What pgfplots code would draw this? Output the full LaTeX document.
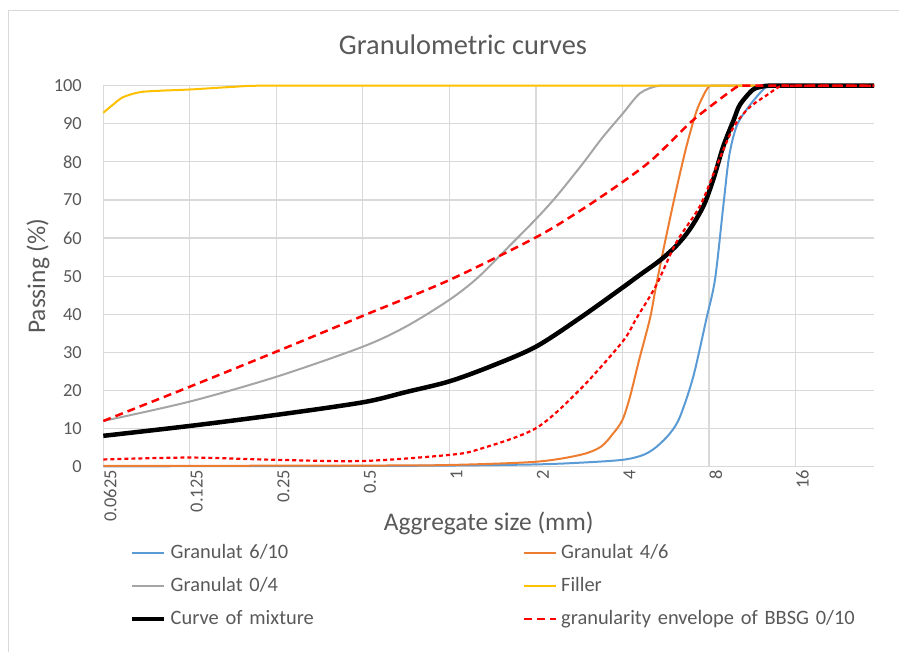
\documentclass[border=0pt]{standalone}
\usepackage{fontspec}
\setmainfont{Carlito}
\usepackage{pgfplots}
\pgfplotsset{compat=1.18}
\definecolor{txt}{HTML}{595959}
\definecolor{gridc}{HTML}{D9D9D9}
\definecolor{cblue}{HTML}{5B9BD5}
\definecolor{corange}{HTML}{ED7D31}
\definecolor{cgray}{HTML}{A5A5A5}
\definecolor{cyellow}{HTML}{FFC000}
\begin{document}
\begin{tikzpicture}
\useasboundingbox (0,0) rectangle (899bp,652bp);
\draw[gridc, line width=1bp] (8bp,-2bp) -- (8bp,641bp) -- (901bp,641bp);
\node[text=txt, font=\fontsize{28.5}{34}\selectfont] at (463bp,607bp) {Granulometric curves};
\begin{axis}[
 at={(103.3bp,185.3bp)}, anchor=south west, scale only axis,
 width=770.7bp, height=381bp,
 xmode=log, log basis x=2, xmin=0.0625, xmax=30, ymin=0, ymax=100,
 xtick={0.0625,0.125,0.25,0.5,1,2,4,8,16},
 xticklabels={0.0625,0.125,0.25,0.5,1,2,4,8,16},
 ytick={0,10,...,100},
 grid=major, major grid style={gridc, line width=1.2bp},
 axis line style={draw=none}, tick style={draw=none},
 /pgf/number format/assume math mode=true,
 xticklabel style={rotate=90, anchor=east, yshift=-7bp, font=\fontsize{18.5}{22}\selectfont, text=txt},
 yticklabel style={xshift=-18bp, font=\fontsize{18.5}{22}\selectfont, text=txt},
 xlabel={Aggregate size (mm)},
 ylabel={Passing (\%)},
 xlabel style={at={(axis description cs:0.5,-0.148)}, anchor=center, font=\fontsize{25.5}{30}\selectfont, text=txt},
 ylabel style={at={(axis description cs:-0.0847,0.5)}, anchor=center, font=\fontsize{25.5}{30}\selectfont, text=txt},
 clip=false,
 legend columns=2,
 legend cell align=left,
 legend image code/.code={\draw[#1] (0bp,0bp) -- (32bp,0bp);},
 legend style={at={(axis description cs:0.0346,-0.203)}, anchor=north west, draw=none, fill=none, inner sep=0pt,
   font=\fontsize{20.5}{24}\selectfont, text=txt, column sep=4bp, row sep=15bp,
   nodes={text width=348bp, text height=14bp, text depth=4bp, inner sep=0pt}},
 every axis plot/.append style={smooth, tension=0.5},
]
\addplot[cblue, line width=2bp] coordinates {
(0.0625,0.1) (0.25,0.15) (0.5,0.2) (1,0.3) (2,0.6) (2.85,1.05) (4,1.8) (4.73,3.1) (5.26,5.25) (5.86,8.8) (6.34,13.1) (7.05,23.6) (7.84,38.9) (8.4,49.3) (8.97,68.4) (9.4,81.5) (9.97,89.3) (10.8,93.7) (12,98) (12.7,99.7) (13.5,100) (16,100) (30,100)};
\addlegendentry{Granulat 6/10}
\addplot[corange, line width=2bp] coordinates {
(0.0625,0.2) (0.5,0.3) (1,0.45) (2,1.3) (2.85,3.1) (3.36,5.2) (3.72,8.8) (4,12.3) (4.25,18.4) (4.57,28) (4.99,39) (5.24,47.6) (5.65,59.7) (6.16,72.8) (6.68,84.1) (7.2,92.8) (7.6,97) (8.0,99.8) (8.5,100) (10,100) (30,100)};
\addlegendentry{Granulat 4/6}
\addplot[cgray, line width=2bp] coordinates {
(0.0625,12) (0.125,17.1) (0.25,23.6) (0.5,31.5) (0.707,36.8) (1,43.8) (1.25,49.5) (1.577,57.1) (2,65) (2.36,71) (2.92,79.7) (3.4,86.3) (4,92.6) (4.6,98) (5.27,99.9) (6,100) (8,100) (30,100)};
\addlegendentry{Granulat 0/4}
\addplot[cyellow, line width=2bp] coordinates {
(0.0625,92.9) (0.068,95.2) (0.0733,97.0) (0.0838,98.3) (0.1,98.7) (0.125,99.0) (0.177,99.7) (0.22,100) (0.5,100) (30,100)};
\addlegendentry{Filler}
\addplot[black, line width=4.5bp] coordinates {
(0.0625,8.1) (0.125,10.7) (0.25,13.6) (0.5,16.9) (0.707,19.6) (1,22.4) (1.41,26.5) (2,31.5) (2.84,39) (4,47) (4.59,50.3) (5.39,54.1) (6.16,58) (6.86,62.3) (7.65,68.4) (8.28,75.4) (8.97,84.1) (9.75,91) (10.25,95) (11.35,98.9) (12.3,99.8) (13,100) (16,100) (30,100)};
\addlegendentry{Curve of mixture}
\addplot[red, line width=2.5bp, dash pattern=on 8bp off 5bp] coordinates {
(0.0625,12) (0.125,21) (0.25,30.2) (0.5,39.6) (1,49) (2,60.2) (2.85,67.2) (4,74.7) (5.11,80.8) (6.86,90.2) (8,94.3) (10,99.7) (10.6,100) (12,100) (30,100)};
\addlegendentry{granularity envelope of BBSG 0/10}
\addplot[red, line width=2.2bp, dash pattern=on 4bp off 3bp, forget plot] coordinates {
(0.0625,1.9) (0.125,2.4) (0.25,1.8) (0.5,1.5) (1,3.1) (1.27,4.6) (2,10.1) (2.85,20.3) (4,32.8) (4.47,38.9) (5.24,47.6) (6.16,58.9) (7.44,68.4) (8.5,78.9) (9.64,88.5) (10.5,92.5) (11.35,95) (12.7,97.5) (14.1,99.8) (15,100) (16,100) (30,100)};
\end{axis}
\end{tikzpicture}
\end{document}
